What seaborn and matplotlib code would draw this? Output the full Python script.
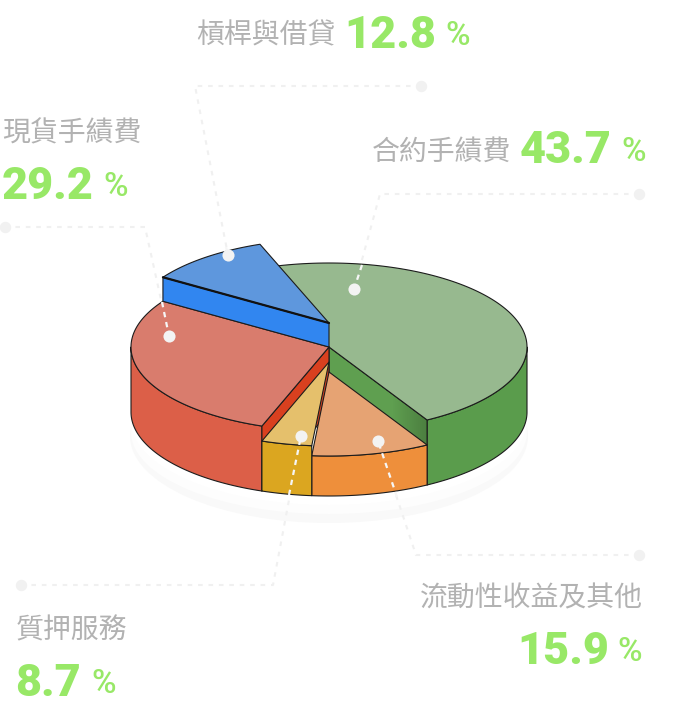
import numpy as np
import pandas as pd
import matplotlib
matplotlib.use("Agg")
import matplotlib.pyplot as plt
import seaborn as sns
from matplotlib.patches import Ellipse, Polygon

# Slice data, clockwise from the blue/green seam at the back of the pie
categories = ['合約手績費', '流動性收益及其他', '質押服務', '現貨手績費', '槓桿與借貸']
shares = [43.7, 15.9, 8.7, 29.2, 12.8]
# the drawing does not follow the printed shares, so sweeps are read off the picture
sweeps = [170.7, 34.7, 14.8, 103.2, 36.6]

top_colors = ['#97b98f', '#e6a373', '#e5c06c', '#d97c6d', '#5e97dd']
wall_colors = ['#5a9c4c', '#ee8f3b', '#dba620', '#dc5f48', '#3186f0']
cut_colors = ['#5f9f50', '#ee8f3b', '#dba620', '#d9401f', '#3186f0']
text_grey = '#b2b2b2'
num_green = '#98e867'

# Pie geometry in pixels
cx, cy = 329, 347
rx, ry = 198, 84
depth = 65
start = 339.6
# how far each top face sits from the main top face (+ is lower)
offsets = [0, 25, 15, 0, -24]

sns.set_theme(style='white')
plt.rcParams['font.family'] = ['Noto Sans CJK TC', 'DejaVu Sans']

fig = plt.figure(figsize=(6.8, 7.15), dpi=100)
ax = fig.add_axes([0, 0, 1, 1])
ax.set_xlim(0, 680)
ax.set_ylim(715, 0)
ax.axis('off')


def rim(t, y0):
    t = np.radians(t)
    return cx + rx * np.sin(t), y0 - ry * np.cos(t)


def arc(t0, t1, y0):
    ts = np.linspace(t0, t1, 120)
    x, y = rim(ts, y0)
    return np.column_stack([x, y])


def face(pts, color, z, lw=0.8):
    patch = Polygon(pts, closed=True, fc=color, ec='#1c1c1c', lw=lw, zorder=z, joinstyle='round')
    ax.add_patch(patch)
    return patch


# Soft shadow below the pie
ax.add_patch(Ellipse((cx, 436), 2 * rx + 2, 2 * 87, fc='#f9f9f9', ec='none', zorder=1))
ax.add_patch(Ellipse((cx, 432), 2 * rx, 2 * 82, fc='#fdfdfd', ec='none', zorder=1.1))
ax.add_patch(Ellipse((cx, 421), 2 * rx, 2 * 84, fc='white', ec='none', zorder=1.2))

# Leader lines: grey part under the pie, white part on top of it
leaders = [
    ([639, 380, 354], [194, 194, 289], [362, 354], [265, 289]),
    ([639, 416, 378], [555, 555, 441], [397, 378], [497, 441]),
    ([21, 273, 301], [585, 585, 436], [289, 301], [495, 436]),
    ([5, 145, 169], [227, 227, 336], [162, 169], [302, 336]),
    ([421, 195, 228], [86, 86, 255], [226, 228], [247, 255]),
]
for i, (lx, ly, wx, wy) in enumerate(leaders):
    grey = pd.DataFrame({'x': lx, 'y': ly})
    sns.lineplot(data=grey, x='x', y='y', sort=False, estimator=None, ax=ax, color='#f0f0f0',
                 lw=1.5, linestyle=(0, (2.2, 2.8)), zorder=2)
    sns.scatterplot(x=lx[:1], y=ly[:1], ax=ax, color='#f1f1f1', s=68, linewidth=0, zorder=2)

# Walk around the pie
edges = np.cumsum([start] + sweeps)
z_order = {0: 3, 3: 4, 4: 7, 1: 5, 2: 6}
for i in range(len(categories)):
    t0, t1 = edges[i], edges[i + 1]
    y_top = cy + offsets[i]
    y_bot = cy + depth
    z = z_order[i]
    # outer wall, only the part that faces us (90 to 270 degrees)
    for shift in (0, 360):
        a0, a1 = max(t0, 90 + shift), min(t1, 270 + shift)
        if a0 < a1:
            up = arc(a0, a1, y_top)
            low = arc(a1, a0, y_bot)
            face(np.vstack([up, low]), wall_colors[i], z)
    # the cut sides that show
    if i == 0:
        p = np.array(rim(t1, y_top))
        wall = face([(cx, y_top), p, (p[0], p[1] + depth), (cx, y_top + depth)], cut_colors[i], z)
        # the green cut side darkens towards its outer end
        shade = np.zeros((2, 64, 4))
        shade[:, :, 3] = np.clip(np.linspace(-1.0, 1.0, 64), 0, 1) * 0.2
        img = ax.imshow(shade, extent=(p[0] - 70, p[0], y_bot + 90, y_top), aspect='auto', zorder=z + 0.01)
        img.set_clip_path(wall)
    if i == 3:
        p = np.array(rim(t0, y_top))
        face([(cx, y_top), p, (p[0], p[1] + depth), (cx, y_top + depth)], cut_colors[i], z)
    if i == 4:
        p = np.array(rim(t0, y_top))
        face([(cx, y_top), p, (p[0], cy + (p[1] - y_top)), (cx, cy)], cut_colors[i], z)
    # top face
    face(np.vstack([[(cx, y_top)], arc(t0, t1, y_top)]), top_colors[i], z + 0.1)
    if i == 4:
        # heavier seam where the raised slice meets its wall
        seam = np.vstack([[rim(t0, y_top)], [(cx, y_top)]])
        ax.plot(seam[:, 0], seam[:, 1], color='#111111', lw=1.6, zorder=z + 0.2)

# White segments and dots over the pie
for lx, ly, wx, wy in leaders:
    white = pd.DataFrame({'x': wx, 'y': wy})
    sns.lineplot(data=white, x='x', y='y', sort=False, estimator=None, ax=ax, color='#f6f6f6',
                 lw=1.6, linestyle=(0, (2.4, 2.2)), zorder=8)
    sns.scatterplot(x=[lx[-1]], y=[ly[-1]], ax=ax, color='#f3f3f3', s=76, linewidth=0, zorder=9)

# Labels: name position, number position, percent position (left edge unless noted)
name_pos = [(372, 160, 'left'), (643, 606, 'right'), (16, 638, 'left'), (2, 141, 'left'), (196, 43, 'left')]
num_pos = [(520, 163), (517, 664), (15, 696), (2, 199), (344, 48)]
pct_pos = [(621, 161), (617, 661), (91, 693), (103, 196), (445, 45)]
for i, name in enumerate(categories):
    nx, ny, ha = name_pos[i]
    ax.text(nx, ny, name, ha=ha, va='baseline', fontsize=20.1, color=text_grey, zorder=10)
    ax.text(num_pos[i][0], num_pos[i][1], f'{shares[i]}', ha='left', va='baseline', fontsize=32.4,
            family='Roboto', weight='black', color=num_green, zorder=10)
    ax.text(pct_pos[i][0], pct_pos[i][1], '%', ha='left', va='baseline', fontsize=24,
            family='Roboto', weight='medium', color=num_green, zorder=10)

ax.set_xlim(0, 680)
ax.set_ylim(715, 0)
ax.set_xlabel('')
ax.set_ylabel('')
fig.savefig('out.png', dpi=100, facecolor='white')
